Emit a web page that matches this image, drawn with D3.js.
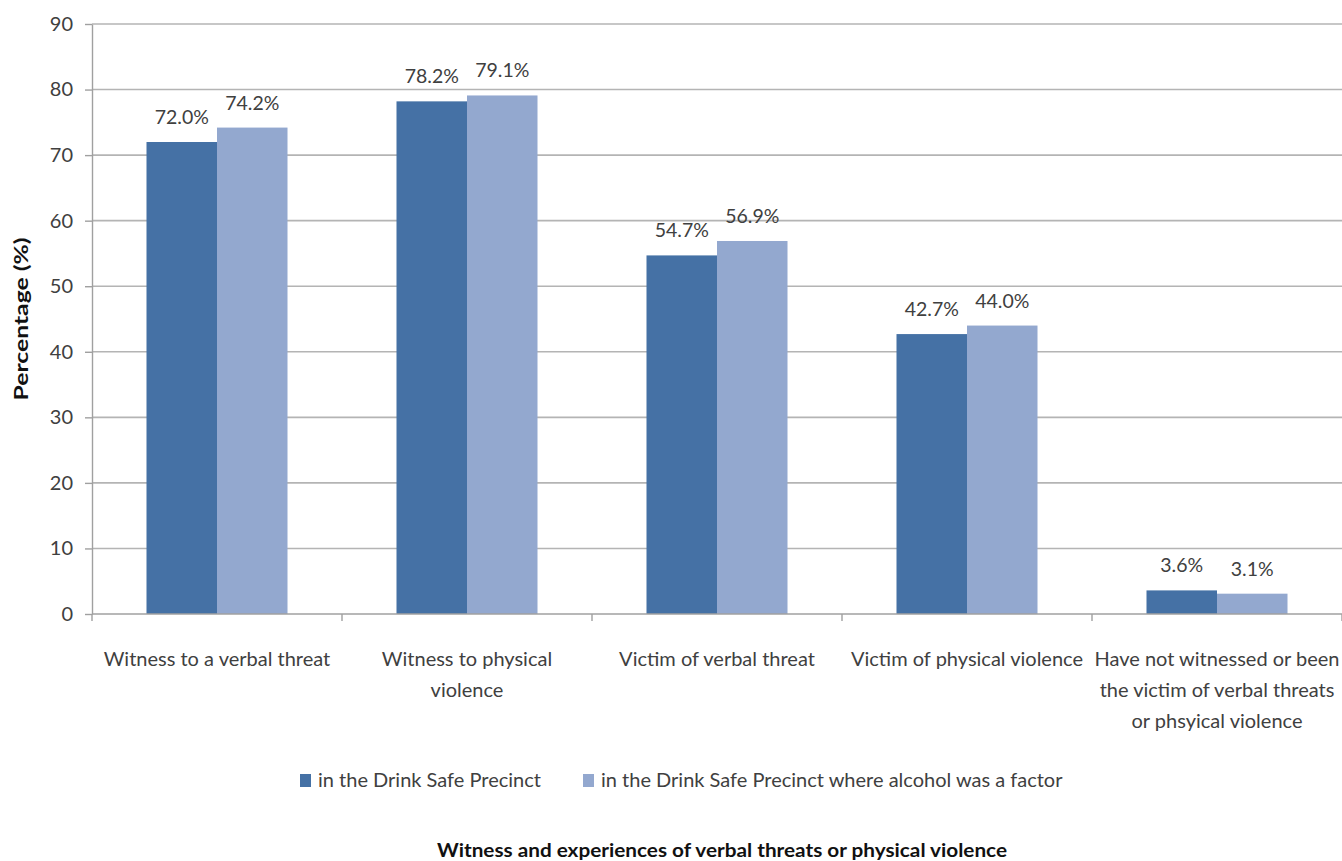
<!DOCTYPE html>
<html>
<head>
<meta charset="utf-8">
<script src="https://cdn.jsdelivr.net/npm/d3@7"></script>
<style>
  html, body { margin: 0; padding: 0; background: #fff; }
  svg { display: block; }
  text { font-family: Lato, "Open Sans", sans-serif; fill: #404040; }
</style>
</head>
<body>
<svg id="chart" width="1342" height="861"></svg>
<script>
// Survey results: witnessing / experiencing threats or violence
const categories = [
  ["Witness to a verbal threat"],
  ["Witness to physical", "violence"],
  ["Victim of verbal threat"],
  ["Victim of physical violence"],
  ["Have not witnessed or been", "the victim of verbal threats", "or phsyical violence"]
];
const seriesNames = [
  "in the Drink Safe Precinct",
  "in the Drink Safe Precinct where alcohol was a factor"
];
const precinctValues = [72.0, 78.2, 54.7, 42.7, 3.6];
const alcoholValues  = [74.2, 79.1, 56.9, 44.0, 3.1];
const yTicks = [0, 10, 20, 30, 40, 50, 60, 70, 80, 90];
const yTitle = "Percentage (%)";
const xTitle = "Witness and experiences of verbal threats or physical violence";

const colors = ["#4571a5", "#93a8cf"];
const seriesValues = [precinctValues, alcoholValues];

const svg = d3.select("#chart");
const plotLeft = 92, plotRight = 1342, plotTop = 24, plotBottom = 614;

const catKeys = categories.map((c, i) => i);
const x0 = d3.scaleBand().domain(catKeys).range([plotLeft, plotRight]).padding(0);
const x1 = d3.scaleBand().domain([0, 1]).range([0, x0.bandwidth()])
  .paddingInner(0).paddingOuter(0.773);
const y = d3.scaleLinear().domain([0, 90]).range([plotBottom, plotTop]);

// horizontal gridlines
svg.append("g").selectAll("line")
  .data(yTicks.filter(t => t > 0))
  .join("line")
  .attr("x1", plotLeft).attr("x2", plotRight)
  .attr("y1", d => y(d)).attr("y2", d => y(d))
  .attr("stroke", "#b4b4b4").attr("stroke-width", 1.6);

// y axis
const yAxis = svg.append("g")
  .attr("transform", `translate(${plotLeft},0)`)
  .call(d3.axisLeft(y).tickValues(yTicks).tickSize(7).tickPadding(12).tickSizeOuter(0));
yAxis.select(".domain").attr("stroke", "#a0a0a0").attr("stroke-width", 1.4);
yAxis.selectAll(".tick line").attr("stroke", "#a0a0a0").attr("stroke-width", 1.4);
yAxis.selectAll(".tick text")
  .style("font-family", "Lato, sans-serif").style("font-size", "20px").attr("fill", "#404040");

// bars
const groups = svg.append("g").selectAll("g")
  .data(catKeys)
  .join("g")
  .attr("transform", i => `translate(${x0(i)},0)`);

groups.selectAll("rect")
  .data(i => seriesValues.map((vals, s) => ({ s, v: vals[i] })))
  .join("rect")
  .attr("x", d => x1(d.s))
  .attr("width", x1.bandwidth())
  .attr("y", d => y(d.v))
  .attr("height", d => y(0) - y(d.v))
  .attr("fill", d => colors[d.s]);

// value labels
groups.selectAll("text.val")
  .data(i => seriesValues.map((vals, s) => ({ s, v: vals[i] })))
  .join("text")
  .attr("class", "val")
  .attr("x", d => x1(d.s) + x1.bandwidth() / 2)
  .attr("y", d => y(d.v) - 18)
  .attr("text-anchor", "middle")
  .style("font-size", "19.5px")
  .text(d => d.v.toFixed(1) + "%");

// x axis
const xAxisG = svg.append("g").attr("transform", `translate(0,${plotBottom})`);
xAxisG.append("line")
  .attr("x1", plotLeft).attr("x2", plotRight).attr("y1", 0).attr("y2", 0)
  .attr("stroke", "#a0a0a0").attr("stroke-width", 1.4);
const bounds = catKeys.map(i => x0(i)).concat([plotRight]);
xAxisG.selectAll("line.tick")
  .data(bounds)
  .join("line")
  .attr("class", "tick")
  .attr("x1", d => d).attr("x2", d => d)
  .attr("y1", 0).attr("y2", 7)
  .attr("stroke", "#a0a0a0").attr("stroke-width", 1.4);

// category labels
const catLabels = svg.append("g").selectAll("text")
  .data(catKeys)
  .join("text")
  .attr("text-anchor", "middle")
  .style("font-size", "20px");
catLabels.selectAll("tspan")
  .data(i => categories[i].map((line, k) => ({ line, k, i })))
  .join("tspan")
  .attr("x", d => x0(d.i) + x0.bandwidth() / 2)
  .attr("y", d => 666 + d.k * 31)
  .text(d => d.line);

// y title
svg.append("text")
  .attr("transform", `translate(28,${(plotTop + plotBottom) / 2}) rotate(-90)`)
  .attr("text-anchor", "middle")
  .attr("textLength", 163).attr("lengthAdjust", "spacingAndGlyphs")
  .style("font-size", "19px").style("font-weight", "bold")
  .style("fill", "#111")
  .text(yTitle);

// legend
const legendPos = [300, 583];
const legend = svg.append("g").selectAll("g")
  .data(seriesNames)
  .join("g")
  .attr("transform", (d, i) => `translate(${legendPos[i]},787)`);
legend.append("rect")
  .attr("x", 0).attr("y", -13).attr("width", 11).attr("height", 13)
  .attr("fill", (d, i) => colors[i]);
legend.append("text")
  .attr("x", 18).attr("y", 0)
  .style("font-size", "20px")
  .text(d => d);

// x title
svg.append("text")
  .attr("x", 722).attr("y", 857)
  .attr("text-anchor", "middle")
  .attr("textLength", 570).attr("lengthAdjust", "spacingAndGlyphs")
  .style("font-size", "19px").style("font-weight", "bold")
  .style("fill", "#111")
  .text(xTitle);
</script>
</body>
</html>
